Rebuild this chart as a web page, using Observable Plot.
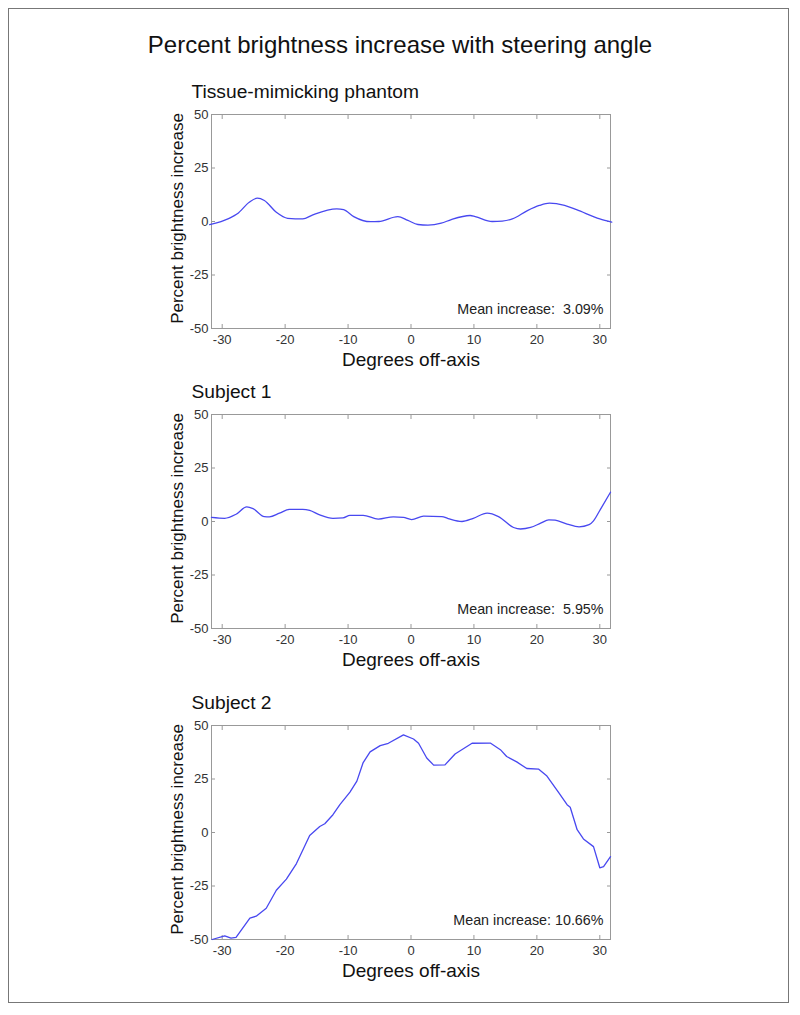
<!DOCTYPE html>
<html>
<head>
<meta charset="utf-8">
<script src="https://cdn.jsdelivr.net/npm/d3@7"></script>
<script src="https://cdn.jsdelivr.net/npm/@observablehq/plot@0.6"></script>
<style>
  body { margin: 0; background: #fff; font-family: "Liberation Sans", Arial, sans-serif; }
  #wrap { position: relative; width: 800px; height: 1015px; overflow: hidden; }
  #border { position: absolute; left: 8px; top: 8px; width: 781px; height: 995px; border: 1.5px solid #777; box-sizing: border-box; }
  #title { position: absolute; left: 0; width: 800px; top: 31px; text-align: center; font-size: 24px; color: #111; }
  svg.panel { position: absolute; left: 0; overflow: visible; }
</style>
</head>
<body>
<div id="wrap">
  <div id="border"></div>
  <div id="title"></div>
</div>
<script>
const chartTitle = "Percent brightness increase with steering angle";
const panelTitles = ["Tissue-mimicking phantom", "Subject 1", "Subject 2"];
const meanLabels = ["Mean increase:\u00a0\u00a03.09%", "Mean increase:\u00a0\u00a05.95%", "Mean increase: 10.66%"];
const xTicks = [-30, -20, -10, 0, 10, 20, 30];
const yTicks = [-50, -25, 0, 25, 50];
const xLabel = "Degrees off-axis";
const yLabel = "Percent brightness increase";

// Panel 1: Tissue-mimicking phantom
const phantomDeg = [-32, -28.9, -27.6, -25.7, -24.4, -23.3, -21.4, -19.6, -17.2, -15.6, -11.8, -10.7, -9.1, -6.4, -5.1, -2.1, -0.5, 1.1, 2.7, 4.8, 6.4, 9.4, 10.2, 12.9, 14.5, 16.1, 18.5, 20.4, 22, 24.4, 26.3, 30, 31.9];
const phantomVal = [-1.5, 1.5, 3.6, 9, 10.9, 9.8, 4.3, 1.5, 1.2, 3.1, 5.9, 5.5, 2.3, -0.1, 0, 2.3, 0.5, -1.4, -1.7, -0.8, 0.9, 2.8, 2.3, 0, 0.2, 1.2, 5.1, 7.5, 8.6, 7.5, 5.5, 1.2, -0.3];

// Panel 2: Subject 1
const subj1Deg = [-31.7, -29.6, -27.8, -26.1, -25.1, -23.3, -22.5, -20.9, -19.3, -17.2, -16.1, -14.5, -12.4, -10.8, -9.7, -7.6, -5.2, -2.8, -1.2, 0.1, 2.0, 4.9, 5.9, 8.1, 9.9, 12.1, 13.9, 16.3, 17.4, 19.0, 20.6, 21.9, 22.9, 24.8, 26.7, 28.3, 29.0, 30.1, 31.7];
const subj1Val = [1.9, 1.5, 3.4, 6.8, 6.0, 2.3, 2.2, 3.9, 5.7, 5.7, 5.2, 3.1, 1.5, 1.7, 2.9, 2.9, 1.1, 2.2, 1.9, 0.9, 2.5, 2.3, 1.4, 0, 1.5, 3.9, 2.3, -2.8, -3.5, -2.8, -0.8, 0.8, 0.6, -1.2, -2.5, -1.5, 0.3, 5.7, 13.7];

// Panel 3: Subject 2
const subj2Deg = [-31.6, -29.6, -28.6, -27.8, -25.6, -24.6, -23.0, -21.4, -19.8, -18.2, -16.1, -14.5, -13.7, -12.4, -11.3, -9.7, -8.6, -7.6, -6.5, -4.9, -3.6, -1.2, 0.4, 1.2, 2.5, 3.6, 5.4, 7.0, 9.7, 12.6, 14.2, 15.2, 16.8, 18.4, 20.3, 21.6, 23.5, 24.8, 25.3, 26.4, 27.4, 29.0, 30.0, 30.6, 31.7];
const subj2Val = [-50, -48.3, -49.4, -49, -40, -39.1, -35.4, -27, -21.8, -14.5, -1.4, 2.8, 4.1, 8.3, 13, 18.9, 24, 32.7, 37.7, 40.6, 41.7, 45.6, 43.7, 41.7, 34.8, 31.5, 31.6, 36.7, 41.7, 41.8, 38.7, 35.5, 33, 29.9, 29.6, 26.4, 18.5, 13, 11.8, 1.3, -3, -6.6, -16.5, -16, -11.3];

const series = [
  {deg: phantomDeg, val: phantomVal, curve: "monotone-x"},
  {deg: subj1Deg, val: subj1Val, curve: "monotone-x"},
  {deg: subj2Deg, val: subj2Val, curve: "linear"}
];
const panelTops = [78, 378, 689];

const wrap = document.getElementById("wrap");
document.getElementById("title").textContent = chartTitle;
const fmt = d => String(d);

series.forEach((s, i) => {
  const data = s.deg.map((d, j) => ({deg: d, val: s.val[j]}));
  const chart = Plot.plot({
    width: 800,
    height: 300,
    marginLeft: 211,
    marginRight: 190,
    marginTop: 36,
    marginBottom: 50,
    style: {background: "transparent", fontFamily: "Liberation Sans, Arial, sans-serif", overflow: "visible"},
    x: {domain: [-31.7, 31.7]},
    y: {domain: [-50, 50]},
    marks: [
      Plot.frame({stroke: "#999", strokeWidth: 1}),
      Plot.axisX(xTicks, {anchor: "bottom", tickSize: 0, tickPadding: 6, fontSize: 13, fill: "#333", tickFormat: fmt, label: null}),
      Plot.axisX(xTicks, {anchor: "bottom", tickSize: -4, text: null, stroke: "#999", label: null}),
      Plot.axisX(xTicks, {anchor: "top", tickSize: -4, text: null, stroke: "#999", label: null}),
      Plot.axisY(yTicks, {anchor: "left", tickSize: 0, tickPadding: 3, fontSize: 13, fill: "#333", tickFormat: fmt, label: null}),
      Plot.axisY(yTicks, {anchor: "left", tickSize: -4, text: null, stroke: "#999", label: null}),
      Plot.axisY(yTicks, {anchor: "right", tickSize: -4, text: null, stroke: "#999", label: null}),
      Plot.line(data, {x: "deg", y: "val", stroke: "#4848f0", strokeWidth: 1.3, curve: s.curve}),
      Plot.text([meanLabels[i]], {frameAnchor: "bottom-right", dx: -7, dy: -19, lineAnchor: "middle", fontSize: 14.3, fill: "#222"}),
      Plot.text([panelTitles[i]], {frameAnchor: "top-left", dx: -20, dy: -23, lineAnchor: "middle", textAnchor: "start", fontSize: 19.2, fill: "#111"}),
      Plot.text([xLabel], {frameAnchor: "bottom", dy: 31, lineAnchor: "middle", fontSize: 19, fill: "#111"}),
      Plot.text([yLabel], {frameAnchor: "left", dx: -29, dy: -3, rotate: -90, lineAnchor: "bottom", textAnchor: "middle", fontSize: 17, fill: "#111"})
    ]
  });
  chart.classList.add("panel");
  chart.style.position = "absolute";
  chart.style.overflow = "visible";
  chart.style.top = panelTops[i] + "px";
  chart.style.left = "0px";
  wrap.appendChild(chart);
});
</script>
</body>
</html>
